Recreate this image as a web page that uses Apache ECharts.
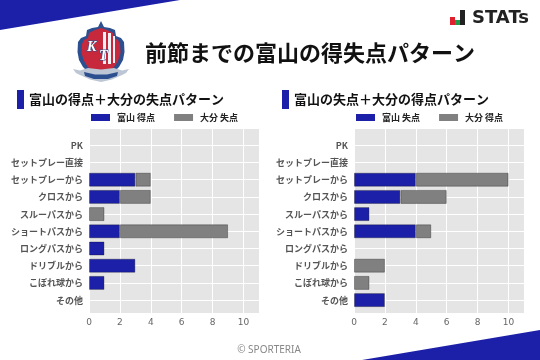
<!DOCTYPE html>
<html>
<head>
<meta charset="utf-8">
<style>
  html, body { margin: 0; padding: 0; background: #fff; }
  #chart { width: 540px; height: 360px; }
</style>
<script src="https://cdn.jsdelivr.net/npm/echarts@6/dist/echarts.min.js"></script>
</head>
<body>
<div id="chart"></div>
<script>
const categories = ['PK', 'セットプレー直接', 'セットプレーから', 'クロスから', 'スルーパスから', 'ショートパスから', 'ロングパスから', 'ドリブルから', 'こぼれ球から', 'その他'];
const toyamaScored = [0, 0, 3, 2, 0, 2, 1, 3, 1, 0];
const oitaConceded = [0, 0, 1, 2, 1, 7, 0, 0, 0, 0];
const toyamaConceded = [0, 0, 4, 3, 1, 4, 0, 0, 0, 2];
const oitaScored = [0, 0, 6, 3, 0, 1, 0, 2, 1, 0];
const xTicks = [0, 2, 4, 6, 8, 10];

const BLUE = '#1c20a8';
const GREY = '#808080';
const JP = '"Noto Sans CJK JP", "Noto Sans", sans-serif';

const chart = echarts.init(document.getElementById('chart'));

// zero values would still draw a border line, so they become gaps
const noZero = (arr) => arr.map((v) => (v === 0 ? null : v));

const barSeries = (name, data, color, axisIndex, stack) => ({
  name: name,
  type: 'bar',
  stack: stack,
  xAxisIndex: axisIndex,
  yAxisIndex: axisIndex,
  barWidth: 14,
  data: noZero(data),
  itemStyle: { color: color, borderColor: 'rgba(0,0,0,0.3)', borderWidth: 1 },
  emphasis: { disabled: true }
});

// each panel has an outer grid (background, vertical lines, x labels)
// and an inner one holding the categories, which sit tighter than the background
const panelGrids = (left) => [
  { left: left, width: 170, top: 129, height: 184, show: true, backgroundColor: '#e5e5e5', borderWidth: 0 },
  { left: left, width: 170, top: 136.7, height: 172 }
];

const panelX = (grid) => [
  {
    gridIndex: grid, type: 'value', min: 0, max: 11, interval: 2,
    axisLine: { show: false }, axisTick: { show: false },
    axisLabel: {
      color: '#666', fontSize: 9, fontFamily: 'DejaVu Sans', margin: 5,
      formatter: (v) => (xTicks.includes(v) ? String(v) : '')
    },
    splitLine: { show: true, lineStyle: { color: '#fff', width: 1 } }
  },
  { gridIndex: grid + 1, type: 'value', min: 0, max: 11, show: false }
];

const panelY = (grid) => [
  { gridIndex: grid, type: 'value', show: false, splitLine: { show: false } },
  {
    gridIndex: grid + 1, type: 'category', inverse: true, data: categories,
    axisLine: { show: false }, axisTick: { show: false },
    axisLabel: { color: '#555', fontSize: 9, fontWeight: 'bold', fontFamily: JP, margin: 6, interval: 0 },
    splitLine: { show: true, alignWithLabel: true, interval: 0, lineStyle: { color: '#fff', width: 1 } }
  }
];

const panelLegend = (left, names) => ({
  left: left, top: 113, padding: 0, itemWidth: 19, itemHeight: 7, itemGap: 19,
  icon: 'rect', data: names, selectedMode: false,
  itemStyle: { borderWidth: 0 },
  textStyle: { color: '#222', fontSize: 9, fontWeight: 'bold', fontFamily: JP, padding: [0, 0, 0, 2] }
});

const heading = (barX, text) => [
  { type: 'rect', shape: { x: barX, y: 90, width: 7, height: 19 }, style: { fill: BLUE } },
  { type: 'text', x: barX + 12, y: 99.5, style: { text: text, fill: '#111', font: 'bold 13px ' + JP, textVerticalAlign: 'middle' } }
];

// club crest, drawn by hand since images are not available here
const crestOuter = [[101, 21], [104, 27], [110, 28], [115, 30], [116, 36], [121, 38], [124, 42], [124.5, 52], [123, 60], [119, 67], [111, 75], [101, 81], [91, 75], [83, 67], [79, 60], [77.5, 52], [78, 42], [81, 38], [86, 36], [87, 30], [92, 28], [98, 27]];
const crestInner = [[101, 28], [107, 30], [113, 33], [114, 38], [118, 40], [120, 44], [120.5, 53], [118, 61], [114, 67], [107, 73], [101, 76], [95, 73], [88, 67], [84, 61], [81.5, 53], [82, 44], [84, 40], [88, 38], [89, 33], [95, 30]];
const crestRibbon = [[73, 69], [80, 70.5], [88, 68], [101, 69.5], [114, 68], [122, 70.5], [129, 69], [126, 73], [122, 75], [112, 79.5], [101, 82], [90, 79.5], [80, 75], [76, 73]];
const crestBand = [[84, 72], [95, 74.5], [107, 74.5], [118, 72], [117, 76], [108, 79], [94, 79], [85, 76]];

const crest = [
  { type: 'polygon', shape: { points: crestOuter }, style: { fill: '#2c4f8f' } },
  { type: 'polygon', shape: { points: crestInner }, style: { fill: '#c8283c' } },
  { type: 'rect', shape: { x: 103, y: 32, width: 3, height: 32 }, style: { fill: '#f2f2f6' } },
  { type: 'rect', shape: { x: 108, y: 33, width: 3, height: 31 }, style: { fill: '#f2f2f6' } },
  { type: 'rect', shape: { x: 113, y: 36, width: 2, height: 27 }, style: { fill: '#f2f2f6' } },
  { type: 'text', x: 87, y: 40, style: { text: 'K', fill: '#fff', stroke: '#2c4f8f', lineWidth: 1, font: 'italic bold 14px "Liberation Serif"' } },
  { type: 'text', x: 99, y: 49, style: { text: 'T', fill: '#fff', stroke: '#2c4f8f', lineWidth: 1, font: 'italic bold 14px "Liberation Serif"' } },
  { type: 'polygon', shape: { points: crestRibbon }, style: { fill: '#bcc6d4' } },
  { type: 'polygon', shape: { points: crestBand }, style: { fill: '#2c4f8f' } }
];

const option = {
  animation: false,
  backgroundColor: '#fff',
  grid: [...panelGrids(89), ...panelGrids(354)],
  xAxis: [...panelX(0), ...panelX(2)],
  yAxis: [...panelY(0), ...panelY(2)],
  legend: [
    panelLegend(91, ['富山 得点', '大分 失点']),
    panelLegend(356, ['富山 失点', '大分 得点'])
  ],
  series: [
    barSeries('富山 得点', toyamaScored, BLUE, 1, 'left'),
    barSeries('大分 失点', oitaConceded, GREY, 1, 'left'),
    barSeries('富山 失点', toyamaConceded, BLUE, 3, 'right'),
    barSeries('大分 得点', oitaScored, GREY, 3, 'right')
  ],
  graphic: [
    { type: 'polygon', shape: { points: [[0, 0], [180, 0], [0, 30]] }, style: { fill: BLUE } },
    { type: 'polygon', shape: { points: [[540, 330], [540, 360], [362, 360]] }, style: { fill: BLUE } },
    ...crest,
    { type: 'text', x: 145, y: 53, style: { text: '前節までの富山の得失点パターン', fill: '#111', font: 'bold 22px ' + JP, textVerticalAlign: 'middle' } },
    ...heading(17, '富山の得点＋大分の失点パターン'),
    ...heading(282, '富山の失点＋大分の得点パターン'),
    { type: 'rect', shape: { x: 450, y: 17, width: 5, height: 8 }, style: { fill: '#e0202c' } },
    { type: 'rect', shape: { x: 455, y: 20, width: 5, height: 5 }, style: { fill: '#1f9a4a' } },
    { type: 'rect', shape: { x: 460, y: 10, width: 5, height: 15 }, style: { fill: '#222' } },
    { type: 'text', x: 472, y: 18, style: { text: 'STATs', fill: '#222', font: 'bold 18px "DejaVu Sans"', textVerticalAlign: 'middle' } },
    { type: 'text', x: 269, y: 350, style: { text: '© SPORTERIA', fill: '#888', font: '10px "Noto Sans"', textAlign: 'center', textVerticalAlign: 'middle' } }
  ]
};

chart.setOption(option);
</script>
</body>
</html>
